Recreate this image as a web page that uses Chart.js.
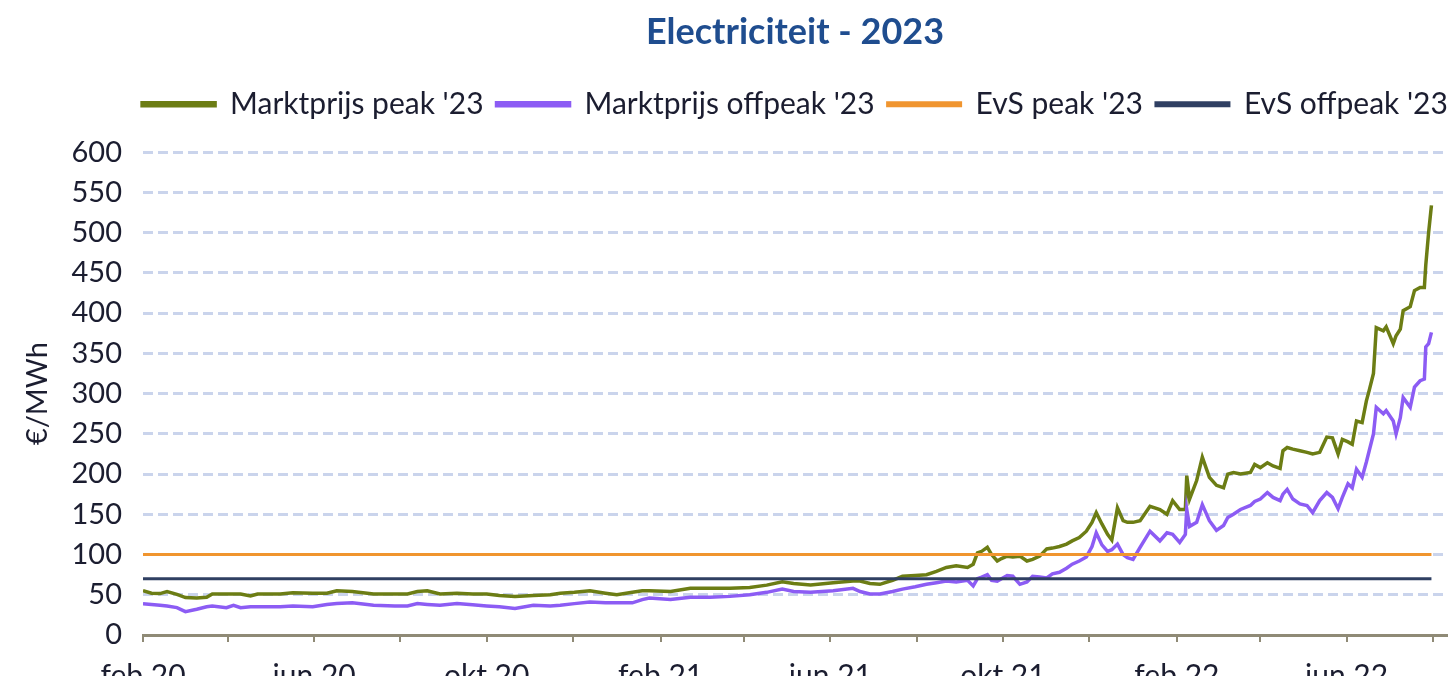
<!DOCTYPE html>
<html><head><meta charset="utf-8">
<script src="https://cdn.jsdelivr.net/npm/chart.js@4.4.1/dist/chart.umd.min.js"></script>
<style>
html,body{margin:0;padding:0;background:#fff;overflow:hidden;width:1450px;height:676px}
#wrap{width:1450px;height:716px;position:relative}
</style>
</head><body><div id="wrap"><canvas id="c" width="1450" height="716"></canvas></div>
<script>
const seriesNames = ["Marktprijs peak '23", "Marktprijs offpeak '23", "EvS peak '23", "EvS offpeak '23"];
const dates = ["2020-02-01","2020-02-07","2020-02-13","2020-02-18","2020-02-25","2020-03-02","2020-03-10","2020-03-17","2020-03-21","2020-03-31",
"2020-04-05","2020-04-10","2020-04-17","2020-04-22","2020-05-08","2020-05-17","2020-05-31","2020-06-10","2020-06-17","2020-06-28",
"2020-07-13","2020-07-28","2020-08-06","2020-08-13","2020-08-20","2020-08-29","2020-09-10","2020-09-21","2020-10-01","2020-10-10",
"2020-10-21","2020-11-03","2020-11-15","2020-11-22","2020-12-02","2020-12-13","2020-12-24","2021-01-01","2021-01-12","2021-01-19",
"2021-01-24","2021-02-08","2021-02-22","2021-03-08","2021-03-22","2021-04-05","2021-04-17","2021-04-28","2021-05-06","2021-05-18",
"2021-06-03","2021-06-17","2021-06-22","2021-06-29","2021-07-06","2021-07-15","2021-07-22","2021-07-31","2021-08-08","2021-08-15",
"2021-08-22","2021-08-29","2021-09-06","2021-09-10","2021-09-13","2021-09-16","2021-09-20","2021-09-23","2021-09-27","2021-09-30",
"2021-10-04","2021-10-08","2021-10-13","2021-10-18","2021-10-22","2021-10-27","2021-11-01","2021-11-05","2021-11-10","2021-11-15",
"2021-11-19","2021-11-24","2021-11-29","2021-12-03","2021-12-06","2021-12-10","2021-12-14","2021-12-17","2021-12-21","2021-12-25",
"2021-12-28","2022-01-01","2022-01-06","2022-01-13","2022-01-20","2022-01-25","2022-01-29","2022-02-03","2022-02-07","2022-02-08",
"2022-02-10","2022-02-15","2022-02-19","2022-02-24","2022-03-01","2022-03-06","2022-03-09","2022-03-13","2022-03-18","2022-03-25",
"2022-03-28","2022-04-01","2022-04-06","2022-04-10","2022-04-15","2022-04-17","2022-04-20","2022-04-24","2022-04-29","2022-05-04",
"2022-05-08","2022-05-13","2022-05-18","2022-05-22","2022-05-26","2022-05-29","2022-06-02","2022-06-05","2022-06-08","2022-06-12",
"2022-06-15","2022-06-17","2022-06-20","2022-06-22","2022-06-27","2022-06-29","2022-07-04","2022-07-06","2022-07-09","2022-07-11",
"2022-07-16","2022-07-19","2022-07-23","2022-07-26","2022-07-27","2022-07-29","2022-07-31"];
const peakPrice = [55,52,51.5,54,50.5,46.5,46,47,51,51,
51,51,48.5,51,51,52.5,52,52,55,54,
51,51,51,54,55,51,52,51,51,49,
48,49,50,52,53,55,52,50,53,55,
55,54,58,58,58,59,62,66,64,62,
65,67,67,64,63,68,73,74,75,79,
84,86,84,88,102,104,109,100,92,95,
98,97,98,92,94,98,107,108,110,113,
117,121,129,140,152,138,125,118,158,142,
140,140,142,160,156,150,167,156,156,198,
169,192,221,196,186,183,200,202,200,202,
212,208,214,210,207,229,233,231,229,227,
225,227,246,245,225,243,240,237,266,264,
291,304,325,382,378,383,362,372,380,403,
408,428,432,432,460,500,534];
const offpeakPrice = [39,38,37,36,34,29,32,35,36,34,
37,34,35,35,35,36,35,38,39,40,
37,36,36,39,38,37,39,37.5,36,35,
33,37,36,37,39,41,40,40,40,44,
46,44,47,47,48,50,53,57,54,53,
55,58,54,51,51,54,57,60,63,65,
67,66,68,61,70,72,75,68,67,70,
74,73,63,66,73,72,71,76,78,83,
88,92,97,110,127,112,104,106,113,100,
96,94,109,129,117,127,125,115,125,156,
135,140,162,142,130,136,146,150,156,161,
166,169,177,171,167,175,181,169,163,161,
152,167,177,171,157,171,188,183,206,196,
215,229,250,283,275,279,266,250,270,295,
283,308,316,318,358,362,376];
const evsDates = ["2020-02-01", "2022-07-31"];
const evsPeak = [100, 100];
const evsOffpeak = [70, 70];
const tickDates = ["2020-02-01","2020-04-01","2020-06-01","2020-08-01","2020-10-01","2020-12-01","2021-02-01","2021-04-01",
"2021-06-01","2021-08-01","2021-10-01","2021-12-01","2022-02-01","2022-04-01","2022-06-01","2022-08-01"];
const tickLabels = ["feb 20","","jun 20","","okt 20","","feb 21","","jun 21","","okt 21","","feb 22","","jun 22",""];
const axisEndDate = "2022-08-11";

const BASE = Date.UTC(2020, 1, 1);
function dayOf(s) { const p = s.split('-').map(Number); return (Date.UTC(p[0], p[1]-1, p[2]) - BASE) / 86400000; }
function pts(ds, vs) { return ds.map((d, i) => ({x: dayOf(d), y: vs[i]})); }

const FONT = "Lato, 'Open Sans', sans-serif";
const textColor = '#1b1d30';
const colors = ['#6c7d14', '#8c5cf4', '#f0952f', '#2f3f62'];

// keeps the four legend items on one row and adds space below the legend
const legendSpacer = {
  id: 'legendSpacer',
  beforeInit(chart) {
    const lg = chart.legend;
    if (!lg) return;
    const origFit = lg.fit;
    lg.fit = function() {
      const mw = this.maxWidth;
      this.maxWidth = mw + 120;
      origFit.call(this);
      this.maxWidth = mw;
      this.width = Math.min(this.width, mw);
      this.height += 23;
    };
    const origDraw = lg.draw;
    lg.draw = function() {
      const l = this.left, r = this.right;
      this.left = l - 150; this.right = r + 150;
      origDraw.call(this);
      this.left = l; this.right = r;
    };
  }
};

new Chart(document.getElementById('c'), {
  type: 'line',
  data: {
    datasets: [
      {label: seriesNames[0], data: pts(dates, peakPrice), borderColor: colors[0], backgroundColor: colors[0], borderWidth: 3.5, order: 4},
      {label: seriesNames[1], data: pts(dates, offpeakPrice), borderColor: colors[1], backgroundColor: colors[1], borderWidth: 3.5, order: 3},
      {label: seriesNames[2], data: pts(evsDates, evsPeak), borderColor: colors[2], backgroundColor: colors[2], borderWidth: 3, order: 2},
      {label: seriesNames[3], data: pts(evsDates, evsOffpeak), borderColor: colors[3], backgroundColor: colors[3], borderWidth: 3, order: 1}
    ]
  },
  options: {
    responsive: false,
    animation: false,
    devicePixelRatio: 1,
    layout: {padding: {left: 0, right: 3, top: 0, bottom: 6}},
    elements: {line: {tension: 0}, point: {radius: 0}},
    plugins: {
      title: {
        display: true, text: 'Electriciteit - 2023', fullSize: false,
        color: '#1f4d8f', font: {family: FONT, size: 36, weight: 'bold'},
        padding: {top: 11, bottom: 22}
      },
      legend: {
        display: true, position: 'top', fullSize: false,
        labels: {
          boxWidth: 73, boxHeight: 3, padding: 13, color: textColor,
          font: {family: FONT, size: 30},
          sort: (a, b) => a.datasetIndex - b.datasetIndex
        }
      },
      tooltip: {enabled: false}
    },
    scales: {
      x: {
        type: 'linear', min: 0, max: dayOf(axisEndDate),
        afterBuildTicks: (scale) => { scale.ticks = tickDates.map(d => ({value: dayOf(d)})); },
        ticks: {
          autoSkip: false, maxRotation: 0, minRotation: 0, padding: 16,
          color: textColor, font: {family: FONT, size: 30},
          callback: (v, i) => tickLabels[i]
        },
        grid: {drawOnChartArea: false, drawTicks: true, tickLength: 7, color: '#8f8a76', lineWidth: 2},
        border: {display: true, color: '#8f8a76', width: 3}
      },
      y: {
        min: 0, max: 600,
        afterFit: (scale) => { scale.width = 143; },
        ticks: {stepSize: 50, autoSkip: false, padding: 21, color: textColor, font: {family: FONT, size: 29}},
        grid: {
          drawTicks: false, lineWidth: 3,
          color: (ctx) => ctx.tick && ctx.tick.value === 0 ? 'rgba(0,0,0,0)' : '#cad4ec'
        },
        border: {display: false, dash: [10, 5]},
        title: {display: true, text: '€/MWh', color: textColor, font: {family: FONT, size: 29}, padding: {top: 20, bottom: 0}}
      }
    }
  },
  plugins: [legendSpacer]
});
</script>
</body></html>
